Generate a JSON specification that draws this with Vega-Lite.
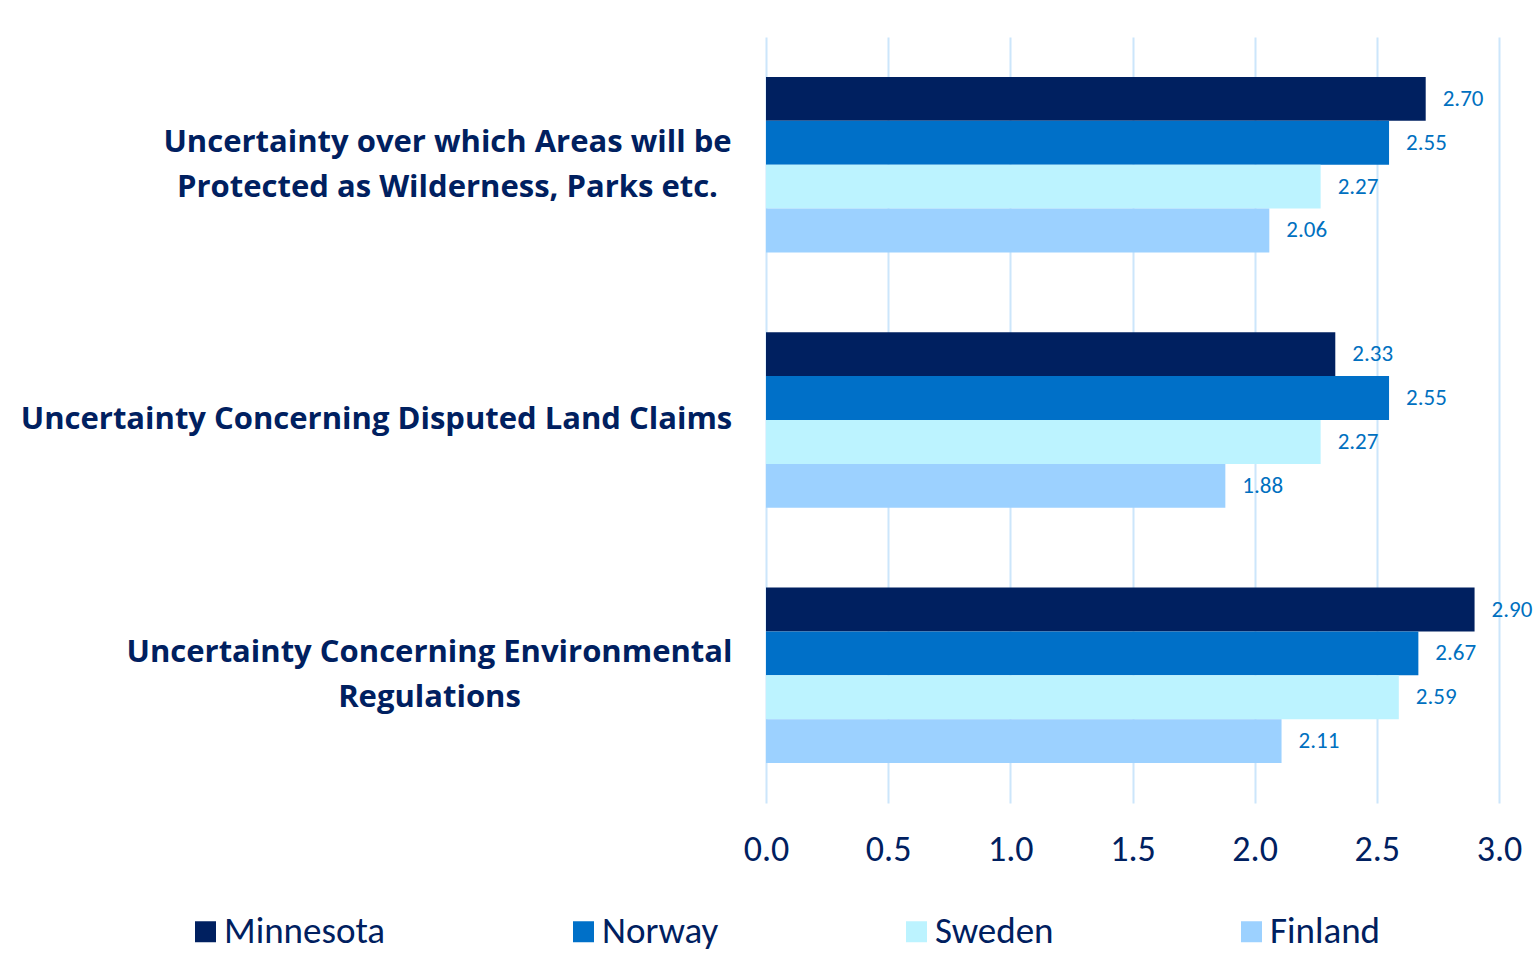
{
  "$schema": "https://vega.github.io/schema/vega-lite/v6.json",
  "autosize": "none",
  "width": 733,
  "height": 766,
  "padding": {"left": 766, "top": 37, "right": 38, "bottom": 160},
  "background": "white",
  "config": {
    "view": {"stroke": null},
    "font": "Carlito, Lato, sans-serif"
  },
  "data": {
    "values": [
      {"q": "Uncertainty over which Areas will be Protected as Wilderness, Parks etc.", "country": "Minnesota", "value": 2.70},
      {"q": "Uncertainty over which Areas will be Protected as Wilderness, Parks etc.", "country": "Norway", "value": 2.55},
      {"q": "Uncertainty over which Areas will be Protected as Wilderness, Parks etc.", "country": "Sweden", "value": 2.27},
      {"q": "Uncertainty over which Areas will be Protected as Wilderness, Parks etc.", "country": "Finland", "value": 2.06},
      {"q": "Uncertainty Concerning Disputed Land Claims", "country": "Minnesota", "value": 2.33},
      {"q": "Uncertainty Concerning Disputed Land Claims", "country": "Norway", "value": 2.55},
      {"q": "Uncertainty Concerning Disputed Land Claims", "country": "Sweden", "value": 2.27},
      {"q": "Uncertainty Concerning Disputed Land Claims", "country": "Finland", "value": 1.88},
      {"q": "Uncertainty Concerning Environmental Regulations", "country": "Minnesota", "value": 2.90},
      {"q": "Uncertainty Concerning Environmental Regulations", "country": "Norway", "value": 2.67},
      {"q": "Uncertainty Concerning Environmental Regulations", "country": "Sweden", "value": 2.59},
      {"q": "Uncertainty Concerning Environmental Regulations", "country": "Finland", "value": 2.11}
    ]
  },
  "encoding": {
    "y": {
      "field": "q",
      "type": "nominal",
      "sort": ["Uncertainty over which Areas will be Protected as Wilderness, Parks etc.", "Uncertainty Concerning Disputed Land Claims", "Uncertainty Concerning Environmental Regulations"],
      "scale": {"paddingInner": 0.3125, "paddingOuter": 0.15625},
      "axis": {
        "title": null,
        "domain": false,
        "ticks": false,
        "tickSize": 0,
        "labelAlign": "center",
        "labelPadding": {
          "condition": [
            {"test": "indexof(datum.value, 'Areas') >= 0", "value": 319},
            {"test": "indexof(datum.value, 'Environmental') >= 0", "value": 337}
          ],
          "value": 390
        },
        "labelOffset": {
          "condition": {"test": "indexof(datum.value, 'Disputed') >= 0", "value": 0},
          "value": -22
        },
        "labelFont": "Open Sans",
        "labelFontSize": 31,
        "labelFontWeight": "bold",
        "labelColor": "#002060",
        "labelLineHeight": 45,
        "labelLimit": 800,
        "labelExpr": "indexof(datum.value, 'Areas') >= 0 ? ['Uncertainty over which Areas will be', 'Protected as Wilderness, Parks etc.'] : indexof(datum.value, 'Environmental') >= 0 ? ['Uncertainty Concerning Environmental', 'Regulations'] : datum.value"
      }
    },
    "yOffset": {
      "field": "country",
      "type": "nominal",
      "sort": ["Minnesota", "Norway", "Sweden", "Finland"],
      "scale": {"paddingInner": 0, "paddingOuter": 0}
    },
    "x": {
      "field": "value",
      "type": "quantitative",
      "scale": {"domain": [0, 3], "nice": false},
      "axis": {
        "title": null,
        "values": [0, 0.5, 1, 1.5, 2, 2.5, 3],
        "format": ".1f",
        "domain": false,
        "ticks": false,
        "tickSize": 0,
        "labelFlush": false,
        "labelOverlap": false,
        "labelPadding": 29,
        "labelFontSize": 36,
        "labelColor": "#002060",
        "grid": true,
        "gridColor": "#CCE6FB",
        "gridWidth": 2
      }
    }
  },
  "layer": [
    {
      "mark": {"type": "bar"},
      "encoding": {
        "color": {
          "field": "country",
          "type": "nominal",
          "sort": ["Minnesota", "Norway", "Sweden", "Finland"],
          "scale": {"domain": ["Minnesota", "Norway", "Sweden", "Finland"], "range": ["#002060", "#0070C8", "#BCF3FF", "#9CD1FF"]},
          "legend": {
            "title": null,
            "orient": "none",
            "legendX": -579,
            "legendY": 876,
            "direction": "horizontal",
            "columns": 4,
            "columnPadding": 179,
            "labelFontSize": 37,
            "labelColor": "#002060",
            "labelOffset": 0,
            "labelLimit": 400,
            "symbolType": "square",
            "symbolSize": 441,
            "symbolStrokeWidth": 0
          }
        }
      }
    },
    {
      "mark": {"type": "text", "align": "left", "baseline": "middle", "dx": 17, "fontSize": 23, "color": "#0070C0"},
      "encoding": {
        "text": {"field": "value", "type": "quantitative", "format": ".2f"}
      }
    }
  ]
}
